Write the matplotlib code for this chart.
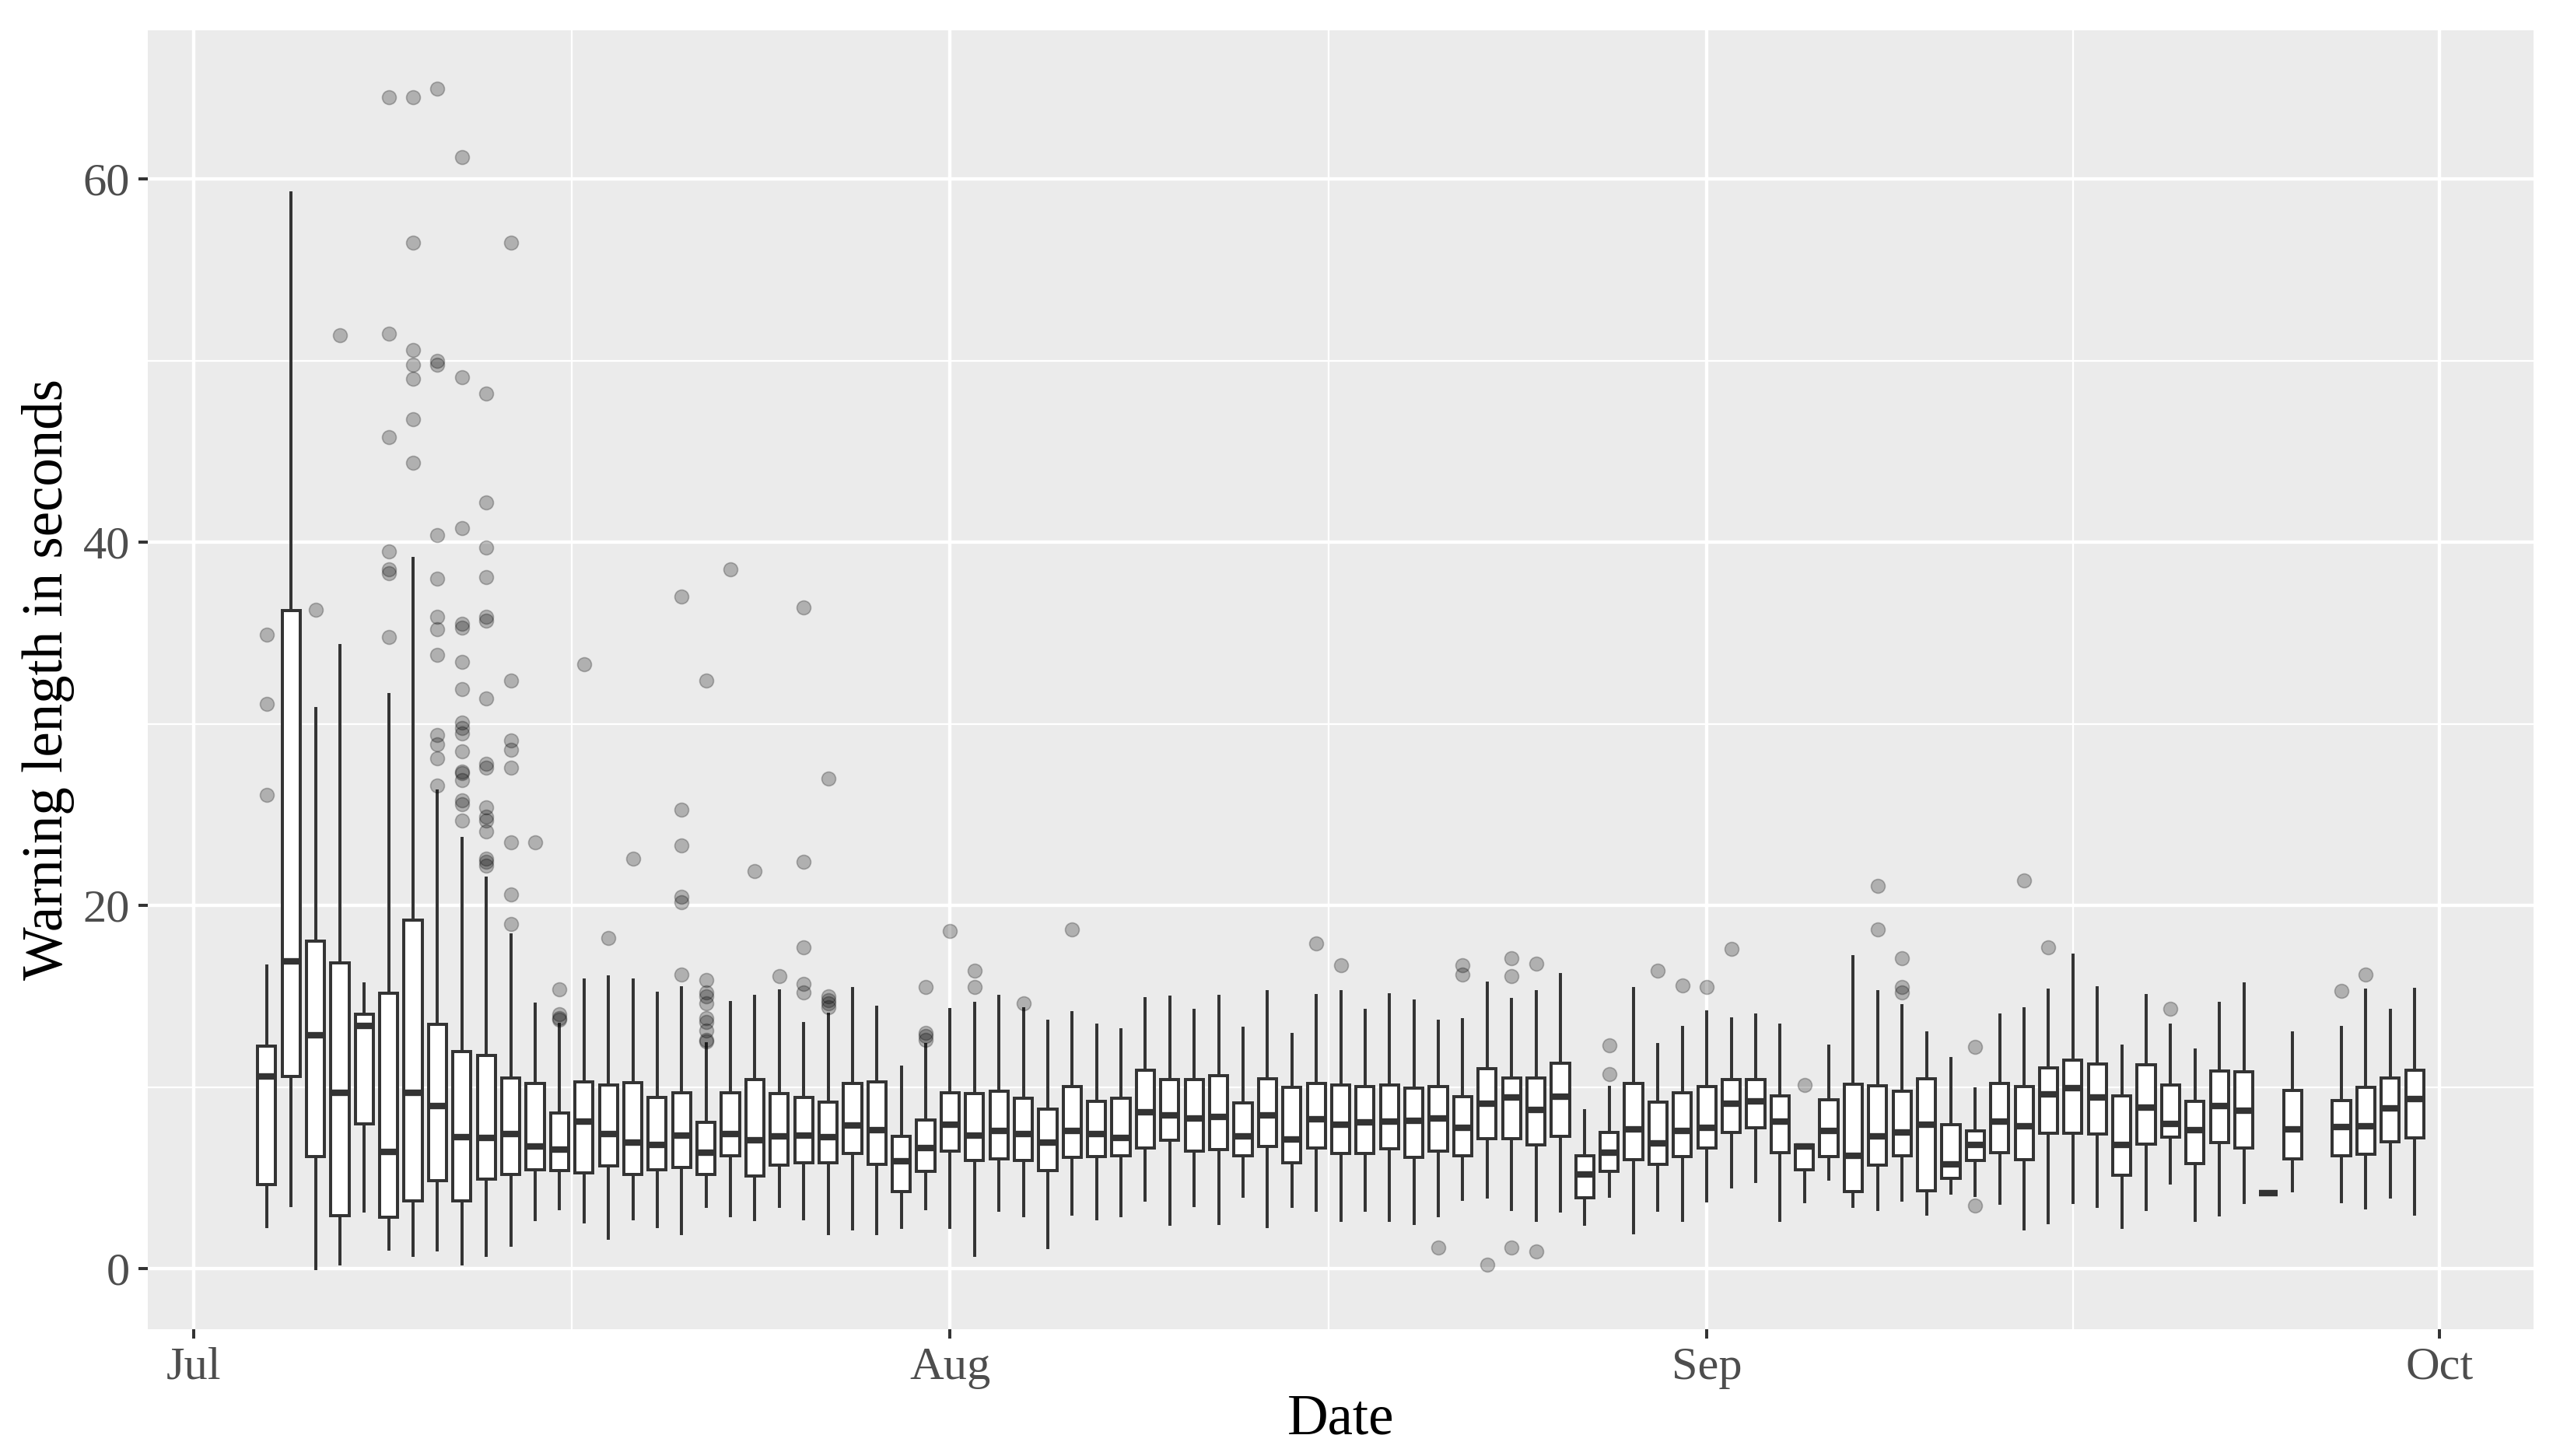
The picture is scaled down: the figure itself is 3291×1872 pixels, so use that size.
import matplotlib
matplotlib.use("Agg")
import matplotlib.pyplot as plt
import matplotlib.dates as mdates
import numpy as np

plt.rcParams["font.family"] = ["Liberation Serif", "DejaVu Serif"]

# one box per day (no data on Sep 26)
days = [
    "07-04", "07-05", "07-06", "07-07", "07-08", "07-09", "07-10", "07-11", "07-12", "07-13",
    "07-14", "07-15", "07-16", "07-17", "07-18", "07-19", "07-20", "07-21", "07-22", "07-23",
    "07-24", "07-25", "07-26", "07-27", "07-28", "07-29", "07-30", "07-31",
    "08-01", "08-02", "08-03", "08-04", "08-05", "08-06", "08-07", "08-08", "08-09", "08-10",
    "08-11", "08-12", "08-13", "08-14", "08-15", "08-16", "08-17", "08-18", "08-19", "08-20",
    "08-21", "08-22", "08-23", "08-24", "08-25", "08-26", "08-27", "08-28", "08-29", "08-30",
    "08-31",
    "09-01", "09-02", "09-03", "09-04", "09-05", "09-06", "09-07", "09-08", "09-09", "09-10",
    "09-11", "09-12", "09-13", "09-14", "09-15", "09-16", "09-17", "09-18", "09-19", "09-20",
    "09-21", "09-22", "09-23", "09-24", "09-25", "09-27", "09-28", "09-29", "09-30",
]

whisker_low = [
    2.31, 3.5, 0.0, 0.25, 3.2, 1.1, 0.73, 1.05, 0.25, 0.73, 1.3, 2.73, 3.3, 2.6, 1.69, 2.74,
    2.32, 1.93, 3.42, 2.94, 2.69, 3.42, 2.74, 1.93, 2.2, 1.93, 2.27, 3.3,
    2.27, 0.76, 3.21, 2.94, 1.18, 3.0, 2.77, 2.94, 3.76, 2.44, 3.5, 2.49, 4.01, 2.32, 3.45, 3.21,
    2.66, 3.21, 2.66, 2.49, 2.94, 3.84, 3.96, 3.25, 2.66, 3.16, 2.44, 4.01, 1.98, 3.21, 2.66,
    3.72, 4.52, 4.81, 2.66, 3.71, 4.94, 3.45, 3.25, 3.79, 3.0, 4.18, 4.04, 3.62, 2.18, 2.52, 3.67,
    3.42, 2.27, 3.25, 4.74, 2.66, 2.96, 3.67, 4.18, 4.3, 3.71, 3.37, 3.96, 3.0,
]
q1 = [
    4.64, 10.6, 6.16, 2.92, 7.98, 2.82, 3.74, 4.87, 3.74, 4.92, 5.2, 5.44, 5.4, 5.3, 5.65, 5.19,
    5.45, 5.57, 5.19, 6.24, 5.11, 5.7, 5.82, 5.82, 6.33, 5.74, 4.26, 5.36,
    6.5, 5.96, 6.04, 5.96, 5.4, 6.13, 6.16, 6.21, 6.63, 7.06, 6.46, 6.58, 6.21, 6.75, 5.82, 6.67,
    6.33, 6.33, 6.6, 6.13, 6.46, 6.21, 7.17, 7.17, 6.84, 7.31, 3.89, 5.36, 5.99, 5.74, 6.16,
    6.67, 7.51, 7.78, 6.41, 5.45, 6.16, 4.23, 5.7, 6.21, 4.3, 4.97, 5.96, 6.38, 5.99, 7.45, 7.48,
    7.43, 5.16, 6.85, 7.26, 5.79, 6.97, 6.63, 4.18, 6.04, 6.24, 6.29, 7.01, 7.22,
]
median = [
    10.6, 16.95, 12.84, 9.69, 13.36, 6.45, 9.69, 8.97, 7.25, 7.21, 7.4, 6.74, 6.58, 8.1, 7.43, 6.97,
    6.84, 7.34, 6.38, 7.43, 7.06, 7.31, 7.34, 7.26, 7.9, 7.65, 5.91, 6.63,
    7.94, 7.34, 7.6, 7.43, 6.97, 7.61, 7.43, 7.22, 8.61, 8.46, 8.27, 8.36, 7.31, 8.44, 7.14, 8.24,
    7.94, 8.07, 8.1, 8.16, 8.27, 7.78, 9.09, 9.42, 8.75, 9.48, 5.19, 6.41, 7.68, 6.89, 7.61,
    7.77, 9.09, 9.2, 8.1, 6.72, 7.61, 6.21, 7.31, 7.51, 7.94, 5.74, 6.84, 8.1, 7.85, 9.59, 9.93,
    9.42, 6.8, 8.87, 7.99, 7.65, 8.95, 8.71, 4.18, 7.68, 7.82, 7.85, 8.83, 9.34,
]
q3 = [
    12.27, 36.25, 18.05, 16.85, 14.03, 15.17, 19.2, 13.47, 11.98, 11.74, 10.5, 10.2, 8.59, 10.3,
    10.1, 10.24, 9.42, 9.68, 8.07, 9.71, 10.4, 9.63, 9.42, 9.17, 10.19, 10.3, 7.31, 8.19,
    9.71, 9.63, 9.76, 9.37, 8.8, 10.05, 9.2, 9.37, 10.95, 10.4, 10.44, 10.64, 9.12, 10.47, 9.97,
    10.22, 10.1, 10.02, 10.1, 9.93, 10.02, 9.48, 11.0, 10.52, 10.52, 11.32, 6.21, 7.51, 10.19,
    9.17, 9.71,
    10.02, 10.44, 10.4, 9.54, 6.84, 9.29, 10.15, 10.07, 9.76, 10.47, 7.94, 7.61, 10.22, 10.05,
    11.07, 11.49, 11.29, 9.51, 11.25, 10.1, 9.2, 10.9, 10.83, 4.18, 9.8, 9.26, 9.97, 10.52, 10.95,
]
whisker_high = [
    16.66, 59.26, 30.85, 34.3, 15.67, 31.6, 39.1, 26.3, 23.7, 21.5, 18.4, 14.56, 13.47, 15.9,
    16.06, 15.9, 15.16, 15.48, 12.39, 14.64, 15.0, 15.3, 13.49, 14.0, 15.43, 14.42, 11.12, 12.35,
    14.26, 14.62, 15.0, 14.3, 13.65, 14.11, 13.43, 13.18, 14.87, 14.97, 14.21, 15.0, 13.23, 15.26,
    12.91, 15.06, 15.26, 14.21, 15.09, 14.75, 13.65, 13.71, 15.74, 14.84, 15.26, 16.21, 8.7, 9.98,
    15.43, 12.34, 13.27,
    14.16, 13.74, 13.99, 13.4, 6.84, 12.25, 17.17, 15.26, 14.47, 13.01, 11.59, 9.9, 13.96, 14.33,
    15.35, 17.29, 15.48, 12.27, 15.06, 13.43, 12.05, 14.62, 15.67, 4.18, 12.98, 13.27, 15.35,
    14.21, 15.4,
]
outliers = {
    "07-04": [34.9, 31.1, 26.1],
    "07-06": [36.3],
    "07-07": [51.4],
    "07-09": [64.5, 51.5, 45.8, 39.5, 38.5, 38.3, 34.8],
    "07-10": [64.5, 56.5, 50.6, 49.8, 49.0, 46.8, 44.4],
    "07-11": [65.0, 50.0, 49.8, 40.4, 38.0, 35.9, 35.2, 33.8, 29.4, 28.9, 28.1, 26.6],
    "07-12": [61.2, 49.1, 40.8, 35.5, 35.3, 33.4, 31.9, 30.1, 29.8, 29.5, 28.5, 27.4, 27.3,
              26.9, 25.8, 25.6, 24.7],
    "07-13": [48.2, 42.2, 39.7, 38.1, 35.9, 35.7, 31.4, 27.8, 27.6, 25.4, 24.9, 24.7, 24.1,
              22.6, 22.4, 22.2],
    "07-14": [56.5, 32.4, 29.1, 28.6, 27.6, 23.5, 20.6, 19.0],
    "07-15": [23.5],
    "07-16": [15.4, 14.0, 13.8, 13.7],
    "07-17": [33.3],
    "07-18": [18.2],
    "07-19": [22.6],
    "07-21": [37.0, 25.3, 23.3, 20.5, 20.2, 16.2],
    "07-22": [32.4, 15.9, 15.2, 15.0, 14.6, 13.8, 13.6, 13.1, 12.6, 12.5],
    "07-23": [38.5],
    "07-24": [21.9],
    "07-25": [16.1],
    "07-26": [36.4, 22.4, 17.7, 15.7, 15.2],
    "07-27": [27.0, 15.0, 14.8, 14.6, 14.4],
    "07-31": [15.5, 13.0, 12.8, 12.6],
    "08-01": [18.6],
    "08-02": [16.4, 15.5],
    "08-04": [14.6],
    "08-06": [18.7],
    "08-16": [17.9],
    "08-17": [16.7],
    "08-21": [1.17],
    "08-22": [16.7, 16.2],
    "08-23": [0.24],
    "08-24": [17.1, 16.1, 1.17],
    "08-25": [16.8, 0.96],
    "08-28": [12.3, 10.7],
    "08-30": [16.4],
    "08-31": [15.6],
    "09-01": [15.5],
    "09-02": [17.6],
    "09-05": [10.1],
    "09-08": [21.1, 18.7],
    "09-09": [17.1, 15.5, 15.2],
    "09-12": [12.2, 3.5],
    "09-14": [21.4],
    "09-15": [17.7],
    "09-20": [14.3],
    "09-27": [15.3],
    "09-28": [16.2],
}

YEAR = 2021
INK = "#333333"

positions = mdates.date2num(np.array([f"{YEAR}-{d}" for d in days], dtype="datetime64[D]"))
stats = [
    dict(whislo=lo, q1=a, med=m, q3=b, whishi=hi, fliers=outliers.get(d, []))
    for d, lo, a, m, b, hi in zip(days, whisker_low, q1, median, q3, whisker_high)
]

fig = plt.figure(figsize=(3291 / 300, 1872 / 300), dpi=300)
ax = fig.add_axes([190 / 3291, 163 / 1872, 3067 / 3291, 1670 / 1872])
ax.set_facecolor("#ebebeb")
for spine in ax.spines.values():
    spine.set_visible(False)

ax.bxp(
    stats,
    positions=positions,
    widths=0.74,
    patch_artist=True,
    showcaps=False,
    manage_ticks=False,
    boxprops=dict(facecolor="white", edgecolor=INK, linewidth=0.95),
    whiskerprops=dict(color=INK, linewidth=0.95),
    medianprops=dict(color=INK, linewidth=2.0, solid_capstyle="butt"),
    flierprops=dict(marker="o", markerfacecolor="black", markeredgecolor="black",
                    markersize=4.3, markeredgewidth=0.4, alpha=0.25),
)

start = mdates.date2num(np.datetime64(f"{YEAR}-07-01"))
ax.set_xlim(start - 1.87, start + 95.87)
ax.set_ylim(-3.33, 68.2)

ax.xaxis.set_major_locator(mdates.MonthLocator())
ax.xaxis.set_major_formatter(mdates.DateFormatter("%b"))
major = np.array([t for t in ax.get_xticks()])
ax.set_xticks((major[:-1] + major[1:]) / 2, minor=True)
ax.set_yticks([0, 20, 40, 60])
ax.set_yticks([10, 30, 50], minor=True)

ax.grid(which="major", color="white", linewidth=1.05)
ax.grid(which="minor", color="white", linewidth=0.53)
ax.set_axisbelow(True)

ax.tick_params(which="major", length=2.9, width=0.95, color=INK, labelsize=14.5,
               labelcolor="#4d4d4d", pad=2.6)
ax.tick_params(which="minor", length=0)

ax.set_xlabel("Date", fontsize=17.5, color="black")
ax.xaxis.label.set_va("baseline")
ax.xaxis.set_label_coords(0.5, (1709 - 1844) / 1670)
ax.set_ylabel("Warning length in seconds", fontsize=17.5, color="black")
ax.yaxis.label.set_va("baseline")
ax.yaxis.set_label_coords((80 - 190) / 3067, 0.5)

fig.savefig("out.png", dpi=300)
plt.close(fig)
